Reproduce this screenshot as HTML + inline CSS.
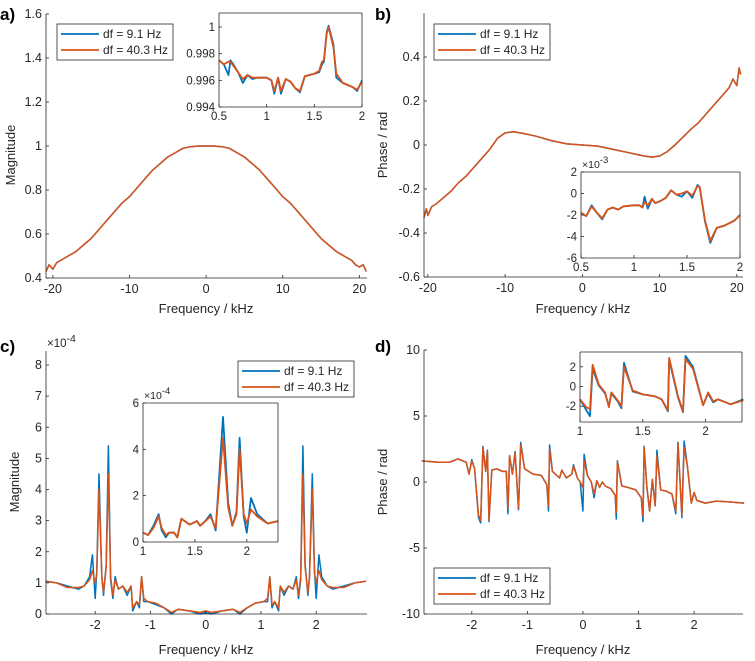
<!DOCTYPE html>
<html><head><meta charset="utf-8"><style>
body{margin:0;background:#fff}
svg{display:block;font-family:"Liberation Sans",sans-serif}
</style></head><body>
<svg id="fig" width="755" height="661" viewBox="0 0 755 661" xmlns="http://www.w3.org/2000/svg"></svg>
<script>
// ---------- Panel a main ----------
const aX=[-20.9,-20.5,-20,-19.5,-19,-18,-17,-16,-15,-14,-13,-12,-11,-10,-9,-8,-7,-6,-5,-4,-3,-2,-1,0,1,2,3,4,5,6,7,8,9,10,11,12,13,14,15,16,17,18,19,19.5,20,20.5,20.9];
const aOrange=[0.43,0.46,0.44,0.47,0.48,0.50,0.52,0.55,0.58,0.62,0.66,0.70,0.74,0.77,0.81,0.85,0.89,0.92,0.95,0.97,0.99,0.997,1.0,1.0,1.0,0.997,0.99,0.97,0.95,0.92,0.89,0.85,0.81,0.77,0.74,0.70,0.66,0.62,0.58,0.55,0.52,0.50,0.48,0.46,0.45,0.46,0.43];
const aBlue=aOrange.map(v=>v);
// ---------- Panel a inset ----------
const aiX=[0.5,0.55,0.6,0.62,0.65,0.7,0.75,0.8,0.85,0.9,1.0,1.05,1.08,1.12,1.15,1.2,1.25,1.3,1.35,1.4,1.5,1.55,1.58,1.6,1.63,1.65,1.7,1.73,1.8,1.9,1.95,2.0];
const aiOrange=[0.9975,0.9972,0.9974,0.9974,0.9971,0.9966,0.9961,0.9964,0.9962,0.9962,0.9962,0.9960,0.9952,0.9962,0.9952,0.9961,0.9959,0.9954,0.9952,0.9963,0.9965,0.9967,0.9974,0.9975,0.9995,1.0000,0.9985,0.9965,0.9958,0.9955,0.9953,0.9959];
const aiBlue=[0.9975,0.9972,0.9964,0.9975,0.9972,0.9966,0.9958,0.9964,0.9961,0.9962,0.9962,0.9960,0.9950,0.9962,0.9950,0.9961,0.9959,0.9954,0.9951,0.9963,0.9965,0.9966,0.9972,0.9974,0.9996,1.0001,0.9987,0.9962,0.9958,0.9955,0.9952,0.9960];
// ---------- Panel b main ----------
const bX=[-20.5,-20.2,-20,-19.5,-19,-18,-17,-16,-15,-14,-13,-12,-11,-10,-9,-8,-6,-4,-2,0,2,4,6,8,9,10,11,12,13,14,15,16,17,18,19,19.5,20,20.3,20.5];
const bOrange=[-0.33,-0.29,-0.32,-0.28,-0.27,-0.24,-0.21,-0.17,-0.14,-0.10,-0.06,-0.02,0.03,0.055,0.06,0.055,0.04,0.02,0.005,0.0,-0.005,-0.02,-0.035,-0.05,-0.055,-0.05,-0.03,0.0,0.035,0.07,0.10,0.14,0.18,0.22,0.26,0.30,0.27,0.35,0.32];
const bBlue=bOrange.map(v=>v);
// ---------- Panel b inset (x1e-3) ----------
const biX=[0.5,0.55,0.6,0.65,0.7,0.75,0.8,0.85,0.9,1.0,1.05,1.08,1.1,1.13,1.17,1.2,1.25,1.3,1.35,1.4,1.45,1.5,1.55,1.6,1.62,1.67,1.72,1.78,1.85,1.95,2.0];
const biOrange=[-1.8,-2.1,-1.2,-1.8,-2.3,-1.5,-1.3,-1.5,-1.2,-1.1,-1.1,-1.3,-0.8,-1.1,-0.5,-0.9,-0.7,-0.4,0.3,-0.1,0.0,0.2,-0.2,0.7,0.6,-2.5,-4.4,-3.2,-3.0,-2.5,-2.0];
const biBlue=[-1.8,-2.1,-1.1,-1.8,-2.4,-1.5,-1.3,-1.5,-1.2,-1.1,-1.1,-1.3,-0.3,-1.4,-0.5,-0.9,-0.7,-0.4,0.3,-0.1,-0.3,0.2,-0.4,0.8,0.6,-2.6,-4.6,-3.2,-3.0,-2.5,-2.0];
// ---------- Panel c main (x1e-4) ----------
const cX=[-2.9,-2.7,-2.5,-2.3,-2.2,-2.1,-2.05,-2.0,-1.97,-1.93,-1.88,-1.85,-1.8,-1.76,-1.72,-1.68,-1.64,-1.58,-1.5,-1.42,-1.35,-1.32,-1.25,-1.2,-1.16,-1.12,-1.05,-0.9,-0.75,-0.62,-0.5,-0.3,-0.1,0,0.1,0.3,0.5,0.62,0.75,0.9,1.05,1.12,1.16,1.2,1.25,1.32,1.35,1.42,1.5,1.58,1.64,1.68,1.72,1.76,1.8,1.85,1.88,1.93,1.97,2.0,2.05,2.1,2.2,2.3,2.5,2.7,2.9];
const cOrange=[1.05,1.0,0.85,0.85,0.9,1.1,1.4,1.0,1.3,4.0,1.2,0.7,1.5,4.5,1.2,0.6,1.1,0.8,0.9,0.7,0.9,0.2,0.4,0.3,1.2,0.5,0.4,0.35,0.2,0.05,0.15,0.1,0.05,0.1,0.05,0.1,0.15,0.05,0.2,0.35,0.4,0.5,1.2,0.3,0.4,0.2,0.9,0.7,0.9,0.8,1.1,0.6,1.2,4.5,1.5,0.7,1.2,4.0,1.3,1.0,1.4,1.1,0.9,0.85,0.85,1.0,1.05];
const cBlue=[1.05,1.0,0.9,0.8,0.9,1.2,1.9,0.5,1.4,4.5,1.2,0.6,1.6,5.4,1.1,0.5,1.2,0.8,0.9,0.6,0.9,0.1,0.4,0.2,1.2,0.4,0.4,0.3,0.2,0.0,0.15,0.1,0.0,0.05,0.0,0.1,0.15,0.0,0.2,0.35,0.4,0.4,1.2,0.2,0.4,0.1,0.9,0.6,0.9,0.8,1.2,0.5,1.1,5.4,1.6,0.6,1.2,4.5,1.4,0.5,1.9,1.2,0.9,0.8,0.9,1.0,1.05];
// ---------- Panel c inset (x1e-4) ----------
const ciX=[1.0,1.05,1.1,1.15,1.18,1.22,1.25,1.3,1.33,1.37,1.45,1.52,1.55,1.6,1.65,1.7,1.77,1.82,1.86,1.9,1.93,1.97,2.0,2.04,2.1,2.2,2.3];
const ciOrange=[0.4,0.3,0.6,1.1,0.6,0.3,0.4,0.4,0.2,1.0,0.75,0.9,0.7,0.9,1.1,0.6,4.5,1.5,0.7,1.2,4.0,1.2,0.8,1.4,1.1,0.8,0.9];
const ciBlue=[0.4,0.3,0.7,1.2,0.5,0.2,0.4,0.4,0.2,1.0,0.75,0.9,0.7,0.9,1.2,0.5,5.4,1.7,0.7,1.3,4.5,1.1,0.4,1.9,1.2,0.8,0.9];
// ---------- Panel d main ----------
const dX=[-2.9,-2.6,-2.4,-2.25,-2.1,-2.05,-2.0,-1.95,-1.88,-1.84,-1.8,-1.75,-1.72,-1.69,-1.64,-1.55,-1.45,-1.38,-1.35,-1.32,-1.27,-1.22,-1.16,-1.12,-1.05,-0.9,-0.75,-0.65,-0.62,-0.6,-0.55,-0.42,-0.38,-0.3,-0.2,-0.17,-0.1,-0.05,0,0.02,0.08,0.15,0.2,0.25,0.3,0.35,0.4,0.5,0.58,0.6,0.62,0.7,0.8,0.95,1.05,1.08,1.1,1.15,1.2,1.25,1.3,1.33,1.4,1.5,1.6,1.67,1.71,1.78,1.82,1.88,1.95,2.0,2.05,2.2,2.4,2.6,2.9];
const dOrange=[1.6,1.5,1.5,1.75,1.5,0.6,1.6,1.0,-2.5,-2.9,2.6,0.8,2.3,-2.9,0.9,1.0,0.8,0.8,-2.0,2.0,0.6,2.2,-2.0,2.8,1.0,0.6,0.5,-0.2,-1.8,2.5,0.8,0.3,0.9,0.3,0.6,1.2,0.3,0.0,-0.4,1.6,0.5,0.0,-0.9,0.1,-0.4,0.0,-0.3,-0.5,-1.0,-2.3,1.5,-0.3,-0.4,-0.6,-1.2,-2.6,2.6,-0.4,-2.2,0.2,-1.8,2.0,-0.6,-0.7,-0.9,-2.2,2.9,-2.5,2.6,1.2,-1.6,-0.8,-1.4,-1.6,-1.45,-1.5,-1.6];
const dBlue=[1.6,1.5,1.5,1.75,1.5,0.6,1.7,1.0,-2.7,-3.1,2.7,0.8,2.4,-3.0,0.9,1.0,0.8,0.8,-2.4,2.0,0.6,2.3,-2.1,3.0,1.0,0.6,0.5,-0.2,-2.2,2.8,0.8,0.3,0.9,0.3,0.6,1.3,0.3,0.0,-2.2,2.1,0.5,0.0,-1.2,0.1,-0.4,0.0,-0.3,-0.5,-1.0,-2.8,1.6,-0.3,-0.4,-0.6,-1.2,-3.0,2.7,-0.4,-2.2,0.2,-1.8,2.4,-0.6,-0.7,-0.9,-2.4,3.0,-2.7,3.1,1.2,-1.6,-0.8,-1.4,-1.6,-1.45,-1.5,-1.6];
// ---------- Panel d inset ----------
const diX=[1.0,1.05,1.08,1.1,1.15,1.2,1.23,1.25,1.3,1.33,1.35,1.42,1.5,1.6,1.65,1.7,1.71,1.78,1.82,1.84,1.9,1.98,2.02,2.06,2.1,2.2,2.3];
const diOrange=[-1.3,-2.1,-2.3,2.2,0.2,-0.6,-2.1,-0.6,-1.4,-2.0,2.0,-0.4,-0.8,-1.0,-1.3,-2.4,2.9,-1.0,-2.5,2.8,1.8,-1.9,-0.6,-1.5,-1.3,-1.8,-1.4];
const diBlue=[-1.3,-2.4,-3.0,1.8,0.1,-0.7,-2.0,-0.7,-1.5,-2.2,2.4,-0.5,-0.8,-1.0,-1.3,-2.5,2.7,-1.1,-2.6,3.1,2.0,-1.9,-0.7,-1.6,-1.3,-1.8,-1.3];

const ticksA=[-20,-10,0,10,20], ticksAY=[0.4,0.6,0.8,1,1.2,1.4,1.6];
const ticksAiX=[0.5,1,1.5,2], ticksAiY=[0.994,0.996,0.998,1];
const ticksBY=[-0.6,-0.4,-0.2,0,0.2,0.4];
const ticksBiY=[-6,-4,-2,0,2];
const ticksC=[-2,-1,0,1,2], ticksCY=[0,1,2,3,4,5,6,7,8];
const ticksCiX=[1,1.5,2], ticksCiY=[0,2,4,6];
const ticksDY=[-10,-5,0,5,10], ticksDiY=[-2,0,2];

const NS="http://www.w3.org/2000/svg";
const fig=document.getElementById('fig');
function mk(tag,attrs,parent){const e=document.createElementNS(NS,tag);for(const k in attrs)e.setAttribute(k,attrs[k]);(parent||fig).appendChild(e);return e;}
function txt(s,x,y,size,anchor,parent,extra){const t=mk('text',Object.assign({x:x,y:y,'font-size':size,'text-anchor':anchor||'middle',fill:'#262626'},extra||{}),parent);t.textContent=s;return t;}

function plot(o){
  const g=mk('g',{});
  
  
  const sx=v=>o.L+(v-o.x0)/(o.x1-o.x0)*(o.R-o.L);
  const sy=v=>o.B-(v-o.y0)/(o.y1-o.y0)*(o.B-o.T);
  if(o.inset) mk('rect',{x:o.L,y:o.T,width:o.R-o.L,height:o.B-o.T,fill:'#fff'},g);
  const fs=o.inset?11.5:12.5;
  [[o.blue,'#0072BD'],[o.orange,'#D95319']].forEach((s,i)=>{
    const arr=s[0];
    const pts=o.xs.map((x,j)=>sx(x).toFixed(1)+','+sy(arr[j]).toFixed(1)).join(' ');
    const p=mk('polyline',{points:pts,fill:'none',stroke:s[1],'stroke-width':o.inset?1.8:1.5,'stroke-linejoin':'round'},g);
    
    
  });
  const ax=mk('g',{stroke:'#262626','stroke-width':0.8,fill:'none'},g);
  
  
  mk('line',{x1:o.L,y1:o.T,x2:o.L,y2:o.B},ax);
  mk('line',{x1:o.L,y1:o.B,x2:o.R,y2:o.B},ax);
  if(o.inset){mk('line',{x1:o.L,y1:o.T,x2:o.R,y2:o.T},ax);mk('line',{x1:o.R,y1:o.T,x2:o.R,y2:o.B},ax);}
  o.xt.forEach(v=>{const x=sx(v);mk('line',{x1:x,y1:o.B,x2:x,y2:o.B-3},ax);
    const t=txt(String(v),x,o.B+(o.inset?13:15),fs,'middle',g);
    
    });
  o.yt.forEach(v=>{const y=sy(v);mk('line',{x1:o.L,y1:y,x2:o.L+3,y2:y},ax);
    const t=txt(String(v),o.L-4,y+4,fs,'end',g);
    
    });
  if(o.exp){const t=mk('text',{x:o.L+1,y:o.T-4,'font-size':fs-1,fill:'#262626'},g);
    t.innerHTML='×10<tspan dy="-5" font-size="'+(fs-2)+'">'+o.exp+'</tspan>';
    
    }
  return g;
}
function legend(x,y){
  const g=mk('g',{});
  
  
  mk('rect',{x:x,y:y,width:116,height:36,fill:'#fff',stroke:'#262626','stroke-width':0.8},g);
  [['df = 9.1 Hz','#0072BD'],['df = 40.3 Hz','#D95319']].forEach((e,i)=>{
    const yy=y+10+i*16;
    const ge=mk('g',{},g);
    
    
    mk('line',{x1:x+4,y1:yy,x2:x+42,y2:yy,stroke:e[1],'stroke-width':1.8},ge);
    txt(e[0],x+46,yy+4,12,'start',ge);
  });
}
function label(s,x,y,rot,name){const t=txt(s,x,y,13,'middle',null,rot?{transform:'rotate(-90 '+x+' '+y+')'}:{});
  
  }
function panelLabel(s,x,y){const t=txt(s,x,y,17,'start',null,{'font-weight':'bold',fill:'#000'});
  
  }

plot({name:'panel-a-magnitude',L:46,R:367,T:14,B:278,x0:-20.9,x1:21,y0:0.4,y1:1.6,xs:aX,orange:aOrange,blue:aBlue,xt:ticksA,yt:ticksAY});
plot({name:'panel-a-inset',inset:true,L:219,R:362,T:13,B:107,x0:0.5,x1:2,y0:0.994,y1:1.00105,xs:aiX,orange:aiOrange,blue:aiBlue,xt:ticksAiX,yt:ticksAiY});
legend(57,24);
label('Magnitude',15,155,true,'y-axis-title');
label('Frequency / kHz',206,313,false,'x-axis-title');
panelLabel('a)',0,20);

plot({name:'panel-b-phase',L:424,R:743,T:13,B:277,x0:-20.5,x1:20.8,y0:-0.6,y1:0.6,xs:bX,orange:bOrange,blue:bBlue,xt:ticksA,yt:ticksBY});
plot({name:'panel-b-inset',inset:true,L:581,R:740,T:172,B:258,x0:0.5,x1:2,y0:-6,y1:2,xs:biX,orange:biOrange,blue:biBlue,xt:ticksAiX,yt:ticksBiY,exp:'-3'});
legend(434,24);
label('Phase / rad',387,145,true,'y-axis-title');
label('Frequency / kHz',583,313,false,'x-axis-title');
panelLabel('b)',375,20);

plot({name:'panel-c-magnitude',L:46,R:367,T:351,B:614,x0:-2.89,x1:2.92,y0:0,y1:8.45,xs:cX,orange:cOrange,blue:cBlue,xt:ticksC,yt:ticksCY,exp:'-4'});
plot({name:'panel-c-inset',inset:true,L:143,R:278,T:403,B:542,x0:1,x1:2.3,y0:0,y1:6,xs:ciX,orange:ciOrange,blue:ciBlue,xt:ticksCiX,yt:ticksCiY,exp:'-4'});
legend(238,361);
label('Magnitude',19,482,true,'y-axis-title');
label('Frequency / kHz',206,654,false,'x-axis-title');
panelLabel('c)',0,352);

plot({name:'panel-d-phase',L:424,R:743,T:350,B:614,x0:-2.86,x1:2.88,y0:-10,y1:10,xs:dX,orange:dOrange,blue:dBlue,xt:ticksC,yt:ticksDY});
plot({name:'panel-d-inset',inset:true,L:580,R:742,T:352,B:422,x0:1,x1:2.29,y0:-3.6,y1:3.5,xs:diX,orange:diOrange,blue:diBlue,xt:ticksCiX,yt:ticksDiY});
legend(434,568);
label('Phase / rad',387,482,true,'y-axis-title');
label('Frequency / kHz',583,654,false,'x-axis-title');
panelLabel('d)',375,352);
</script>
</body></html>
